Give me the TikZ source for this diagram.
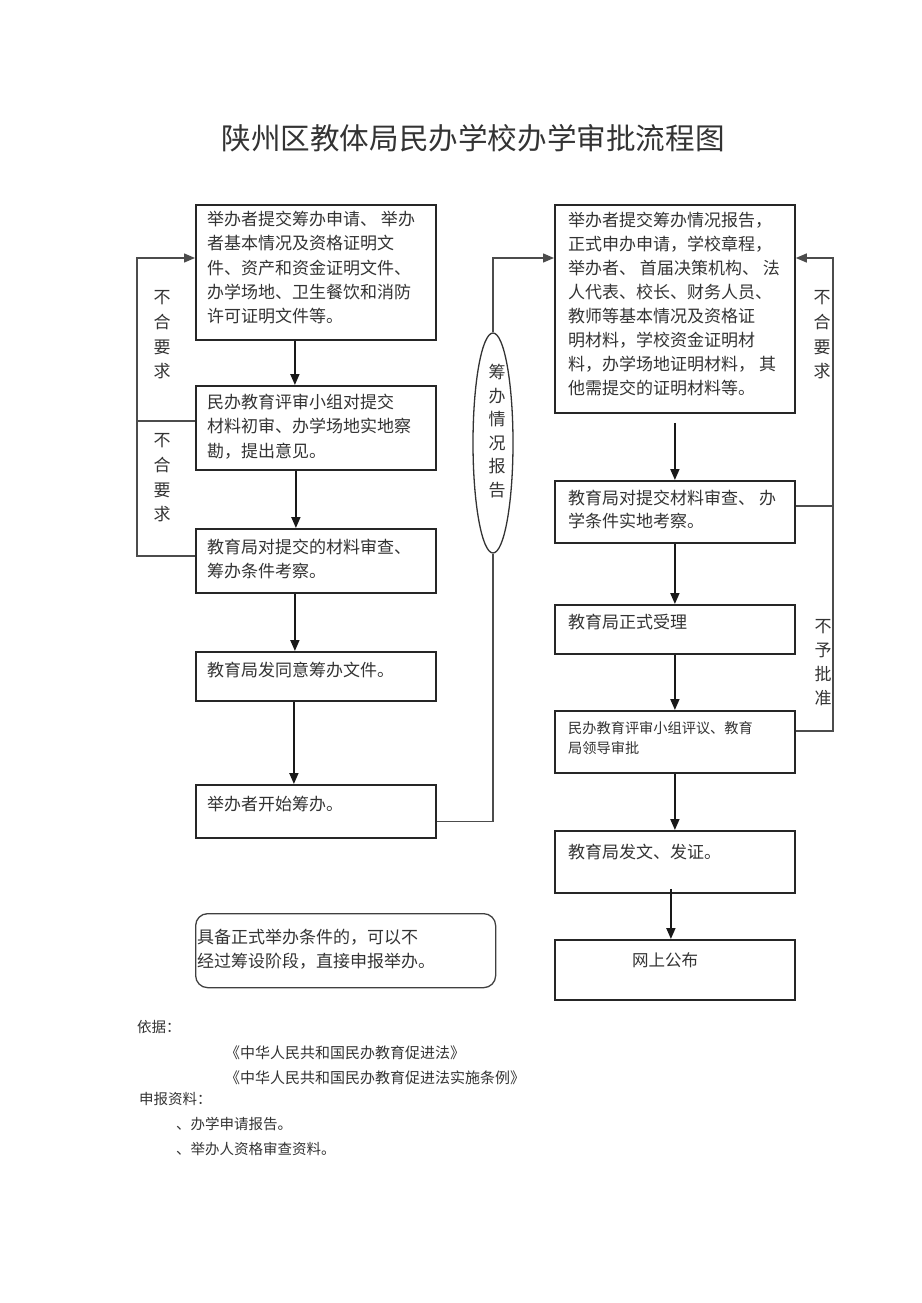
\documentclass[tikz,border=0pt]{standalone}
\usepackage{fontspec}
\setmainfont{Noto Sans CJK SC}
\usetikzlibrary{arrows.meta,shapes.geometric}
\begin{document}
\begin{tikzpicture}[x=1pt,y=-1pt]
\tikzstyle{every node}+=[inner sep=0pt, text=black!80]
\tikzstyle{box}=[draw=black!85, line width=1.8pt, anchor=north west]
\tikzstyle{txt}=[anchor=north west, align=left, font=\fontsize{17}{24.3}\selectfont]
\tikzstyle{line}=[anchor=west, font=\fontsize{17}{24}\selectfont]
\tikzstyle{vtxt}=[align=center, font=\fontsize{17}{24.6}\selectfont]
\tikzstyle{note}=[anchor=west, font=\fontsize{14.5}{15}\selectfont]
\tikzstyle{flow}=[draw=black!90, line width=1.8pt, -{Triangle[length=11pt,width=9pt]}]
\tikzstyle{back}=[draw=black!70, line width=1.3pt]
\useasboundingbox (0,0) rectangle (921,1303);
\coordinate (top) at (0,258);
\coordinate (lrail) at (137,0);
\coordinate (rrail) at (833,0);
\node[font=\fontsize{29.6}{30}\selectfont] (title) at (473,138) {陕州区教体局民办学校办学审批流程图};
\node[box, minimum width=240pt, minimum height=135pt] (l1) at (195,204) {};
\node[txt] (l1t) at (207,211) {举办者提交筹办申请、 举办\\者基本情况及资格证明文\\件、资产和资金证明文件、\\办学场地、卫生餐饮和消防\\许可证明文件等。};
\node[box, minimum width=240pt, minimum height=84pt] (l2) at (195,385) {};
\node[txt] (l2t) at (207,394) {民办教育评审小组对提交\\材料初审、办学场地实地察\\勘，提出意见。};
\node[box, minimum width=240pt, minimum height=64pt] (l3) at (195,528) {};
\node[txt] (l3t) at (207,539) {教育局对提交的材料审查、\\筹办条件考察。};
\node[box, minimum width=240pt, minimum height=49pt] (l4) at (195,651) {};
\node[line] (l4t) at (207,670) {教育局发同意筹办文件。};
\node[box, minimum width=240pt, minimum height=53pt] (l5) at (195,784) {};
\node[line] (l5t) at (207,804) {举办者开始筹办。};
\node[box, line width=1.3pt, draw=black!75, rounded corners=12pt, minimum width=300pt, minimum height=74pt] (direct) at (195,913) {};
\node[txt, font=\fontsize{17}{23.5}\selectfont] (directt) at (197,929) {具备正式举办条件的，可以不\\经过筹设阶段，直接申报举办。};
\node[draw=black!80, line width=1.3pt, ellipse, minimum width=40pt, minimum height=220pt] (rep) at (493,443) {};
\node[vtxt, font=\fontsize{17}{23.6}\selectfont] (rept) at (497,431) {筹\\办\\情\\况\\报\\告};
\node[box, minimum width=240pt, minimum height=208pt] (r1) at (554,204) {};
\node[txt, font=\fontsize{17}{24}\selectfont] (r1t) at (568,212) {举办者提交筹办情况报告，\\正式申办申请，学校章程，\\举办者、 首届决策机构、 法\\人代表、校长、财务人员、\\教师等基本情况及资格证\\明材料，学校资金证明材\\料，办学场地证明材料， 其\\他需提交的证明材料等。};
\node[box, minimum width=240pt, minimum height=62pt] (r2) at (554,480) {};
\node[txt, font=\fontsize{17}{23}\selectfont] (r2t) at (568,490) {教育局对提交材料审查、 办\\学条件实地考察。};
\node[box, minimum width=240pt, minimum height=49pt] (r3) at (554,604) {};
\node[line] (r3t) at (568,622) {教育局正式受理};
\node[box, minimum width=240pt, minimum height=62pt] (r4) at (554,710) {};
\node[txt, font=\fontsize{14.2}{20}\selectfont] (r4t) at (568,721.5) {民办教育评审小组评议、教育\\局领导审批};
\node[box, minimum width=240pt, minimum height=62pt] (r5) at (554,830) {};
\node[line] (r5t) at (568,852) {教育局发文、发证。};
\node[box, minimum width=240pt, minimum height=60pt] (r6) at (554,939) {};
\node[font=\fontsize{16.5}{17}\selectfont] (r6t) at (665,960) {网上公布};
\node[vtxt] (lab1) at (162,335) {不\\合\\要\\求};
\node[vtxt] (lab2) at (162,478) {不\\合\\要\\求};
\node[vtxt] (lab3) at (822,335) {不\\合\\要\\求};
\node[vtxt, font=\fontsize{17}{24}\selectfont] (lab4) at (823,663) {不\\予\\批\\准};
\draw[flow] ([xshift=-21pt]l1.south) -- ([xshift=-21pt]l2.north);
\draw[flow] ([xshift=-20pt]l2.south) -- ([xshift=-20pt]l3.north);
\draw[flow] ([xshift=-21pt]l3.south) -- ([xshift=-21pt]l4.north);
\draw[flow] ([xshift=-22pt]l4.south) -- ([xshift=-22pt]l5.north);
\draw[flow] ([yshift=-9pt]r1.south) -- (r2.north);
\draw[flow] (r2.south) -- (r3.north);
\draw[flow] (r3.south) -- (r4.north);
\draw[flow] (r4.south) -- (r5.north);
\draw[flow] ([xshift=-4pt,yshift=5pt]r5.south) -- ([xshift=-4pt]r6.north);
\draw[back, -{Triangle[length=11pt,width=9pt]}] ([yshift=5pt]l3.west) -| (lrail |- top) -- (l1.west |- top);
\draw[back] ([yshift=7pt]l2.west) -- ([yshift=7pt]l2.west -| lrail);
\draw[back] ([yshift=-10pt]l5.east) -| (rep.south);
\draw[back, -{Triangle[length=11pt,width=9pt]}] (rep.north) |- (r1.west |- top);
\draw[back, -{Triangle[length=11pt,width=9pt]}] ([yshift=11pt]r4.east) -| (rrail |- top) -- (r1.east |- top);
\draw[back] ([yshift=6pt]r2.east) -- ([yshift=6pt]r2.east -| rrail);
\node[note] (basis) at (137,1027) {依据：};
\node[note, font=\fontsize{15}{15}\selectfont] (law1) at (225,1053) {《中华人民共和国民办教育促进法》};
\node[note, font=\fontsize{15}{15}\selectfont] (law2) at (225,1078) {《中华人民共和国民办教育促进法实施条例》};
\node[note] (docs) at (139,1099) {申报资料：};
\node[note] (doc1) at (176,1124) {、办学申请报告。};
\node[note] (doc2) at (176,1149) {、举办人资格审查资料。};
\end{tikzpicture}
\end{document}
